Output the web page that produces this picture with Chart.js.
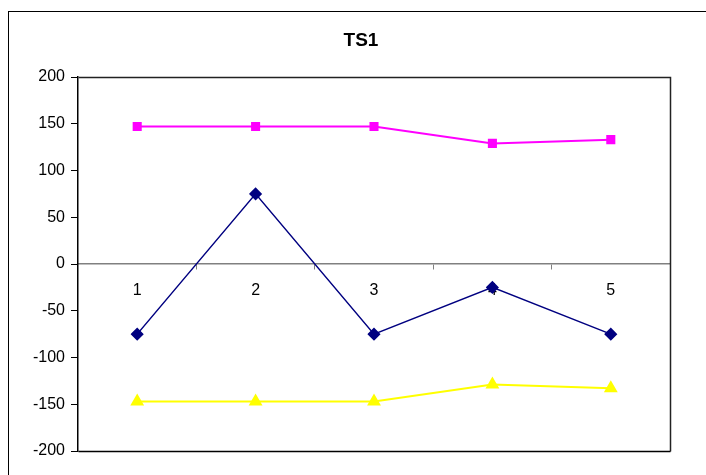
<!DOCTYPE html>
<html>
<head>
<meta charset="utf-8">
<script src="https://cdn.jsdelivr.net/npm/chart.js@4/dist/chart.umd.min.js"></script>
<style>
  html, body { margin: 0; padding: 0; background: #fff; }
  #wrap { width: 706px; height: 475px; position: relative; }
</style>
</head>
<body>
<div id="wrap"><canvas id="c" width="706" height="475"></canvas></div>
<script>
// Category labels and series values
const categories = ['1', '2', '3', '4', '5'];
const seriesNavy = [-75, 75, -75, -25, -75];
const seriesMagenta = [147, 147, 147, 129, 133];
const seriesYellow = [-147, -147, -147, -129, -133];
const yTicks = [-200, -150, -100, -50, 0, 50, 100, 150, 200];
const chartTitle = 'TS1';

// Outer frame, title centred on the frame, and plot-area box
const framePlugin = {
  id: 'frame',
  beforeDraw(chart) {
    const ctx = chart.ctx;
    ctx.save();
    ctx.fillStyle = '#fff';
    ctx.fillRect(0, 0, chart.width, chart.height);
    ctx.strokeStyle = '#000';
    ctx.lineWidth = 1;
    ctx.strokeRect(8.5, 11.5, chart.width + 20, chart.height + 20);
    ctx.fillStyle = '#000';
    ctx.font = 'bold 19px "Liberation Sans", Arial, sans-serif';
    ctx.textAlign = 'center';
    ctx.textBaseline = 'middle';
    ctx.fillText(chartTitle, 361, 41);
    ctx.restore();
  },
  afterDraw(chart) {
    const a = chart.chartArea;
    const ctx = chart.ctx;
    ctx.save();
    ctx.strokeStyle = '#222';
    ctx.lineWidth = 1.5;
    ctx.beginPath();
    ctx.moveTo(Math.round(a.left) + 0.5, Math.round(a.top) + 0.5);
    ctx.lineTo(Math.round(a.right) + 0.5, Math.round(a.top) + 0.5);
    ctx.lineTo(Math.round(a.right) + 0.5, Math.round(a.bottom) + 0.5);
    ctx.stroke();
    ctx.strokeStyle = '#000';
    ctx.beginPath();
    ctx.moveTo(Math.round(a.left) + 0.5, Math.round(a.bottom) + 0.5);
    ctx.lineTo(Math.round(a.right) + 0.5, Math.round(a.bottom) + 0.5);
    ctx.stroke();
    ctx.restore();
  }
};

new Chart(document.getElementById('c'), {
  type: 'line',
  data: {
    labels: categories,
    datasets: [
      {
        label: 'Series1',
        data: seriesNavy,
        borderColor: '#000080',
        backgroundColor: '#000080',
        borderWidth: 1.5,
        pointStyle: 'rectRot',
        pointRadius: 5.5,
        pointHoverRadius: 5.5,
        tension: 0
      },
      {
        label: 'Series2',
        data: seriesMagenta,
        borderColor: '#FF00FF',
        backgroundColor: '#FF00FF',
        borderWidth: 2,
        pointStyle: 'rect',
        pointRadius: 5,
        pointHoverRadius: 5,
        tension: 0
      },
      {
        label: 'Series3',
        data: seriesYellow,
        borderColor: '#FFFF00',
        backgroundColor: '#FFFF00',
        borderWidth: 2,
        pointStyle: 'triangle',
        pointRadius: 6,
        pointHoverRadius: 6,
        tension: 0
      }
    ]
  },
  options: {
    responsive: false,
    animation: false,
    devicePixelRatio: 1,
    layout: { padding: { left: 0, right: 36, top: 77, bottom: 24 } },
    plugins: {
      legend: { display: false },
      tooltip: { enabled: false },
      title: { display: false }
    },
    scales: {
      x: {
        type: 'category',
        position: { y: 0 },
        offset: true,
        border: { display: true, color: '#808080', width: 1.5 },
        grid: {
          display: true,
          offset: true,
          drawOnChartArea: false,
          drawTicks: true,
          tickLength: 5,
          color: '#808080',
          lineWidth: 1
        },
        ticks: {
          color: '#000',
          padding: 12,
          maxRotation: 0,
          font: { family: 'Liberation Sans, Arial, sans-serif', size: 16 }
        }
      },
      y: {
        min: yTicks[0],
        max: yTicks[yTicks.length - 1],
        afterFit(scale) { scale.width = 78; },
        afterBuildTicks(scale) { scale.ticks = yTicks.map(v => ({ value: v })); },
        border: { display: true, color: '#000', width: 1.5 },
        grid: {
          display: true,
          drawOnChartArea: false,
          drawTicks: true,
          tickLength: 7,
          color: '#000',
          lineWidth: 1
        },
        ticks: {
          color: '#000',
          padding: 6,
          font: { family: 'Liberation Sans, Arial, sans-serif', size: 16 },
          callback: v => String(v)
        }
      }
    }
  },
  plugins: [framePlugin]
});
</script>
</body>
</html>
